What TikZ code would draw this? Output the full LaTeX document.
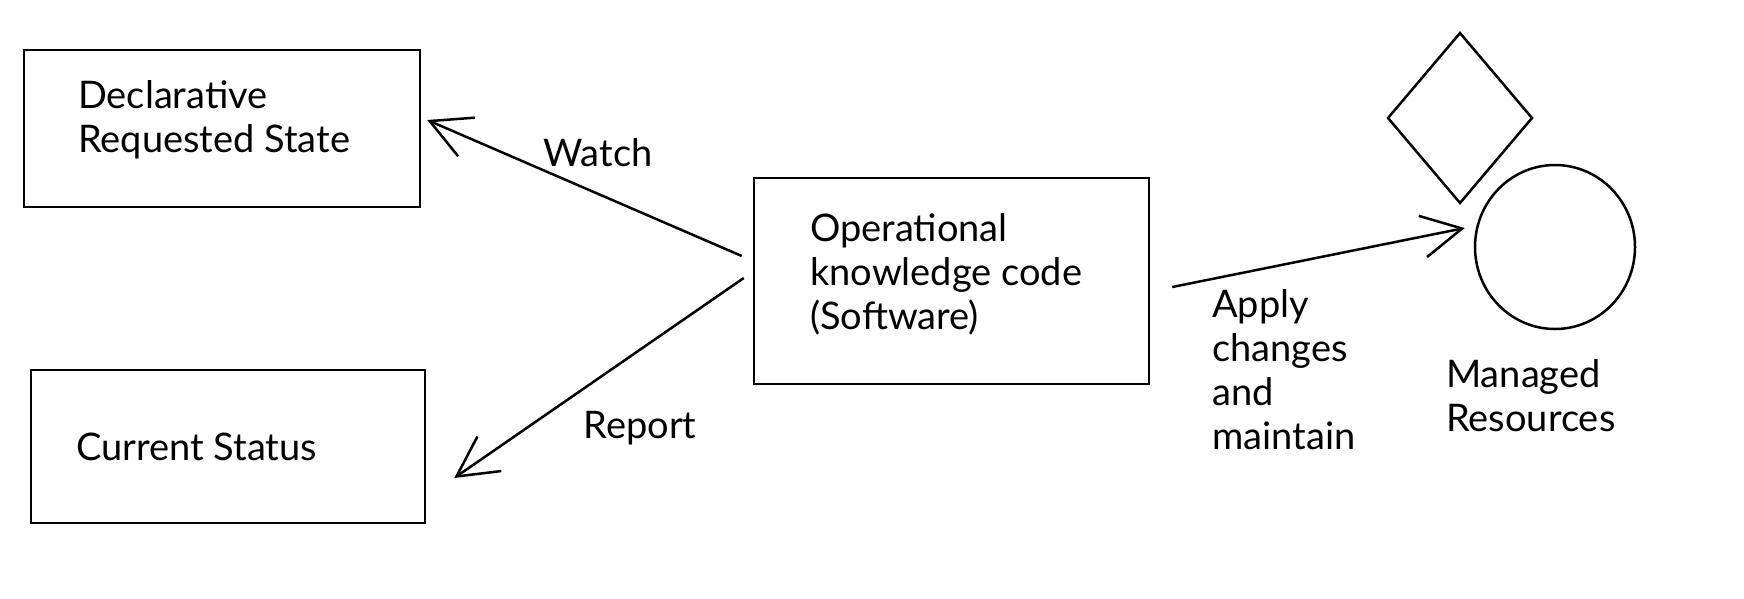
\documentclass[tikz,border=0pt]{standalone}
\usepackage{fontspec}
\setmainfont{Lato}
\usetikzlibrary{arrows.meta,shapes.geometric}
\begin{document}
\begin{tikzpicture}[x=1pt,y=-1pt,
  box/.style={draw=black,line width=2.5pt,rectangle,inner sep=0pt},
  shp/.style={draw=black,line width=2.5pt,inner sep=0pt},
  txt/.style={font=\fontsize{38}{44}\selectfont,align=left,inner sep=0pt,text=black},
  conn/.style={draw=black,line width=2.5pt,-{Straight Barb[length=40pt,width=42pt,line width=2.5pt]}}]
\useasboundingbox[fill=white] (0,0) rectangle (1744,598);
% boxes
\node[box,minimum width=396pt,minimum height=157pt] (decl) at (222,128.5) {};
\node[box,minimum width=394pt,minimum height=153pt] (curr) at (228,446.5) {};
\node[box,minimum width=395pt,minimum height=206pt] (oper) at (951.5,281) {};
\node[shp,diamond,minimum width=145pt,minimum height=171pt] (dia) at (1460,118) {};
\node[shp,ellipse,minimum width=160pt,minimum height=164pt] (circ) at (1555,247) {};
% texts
\node[txt,anchor=west] (tdecl) at (78,120) {Declarative\\Requested State};
\node[txt,anchor=west] (tcurr) at (76,447) {Current Status};
\node[txt,anchor=west] (toper) at (810,274) {Operational\\knowledge code\\(Software)};
\node[txt,anchor=west] (tapply) at (1212,370) {Apply\\changes\\and\\maintain};
\node[txt,anchor=west] (tman) at (1446,396) {Managed\\Resources};
\node[txt] (twatch) at (598,153) {Watch};
\node[txt] (treport) at (640,428) {Report};
% connectors
\draw[conn] ([xshift=-11pt,yshift=25pt]oper.west) -- ([xshift=6pt,yshift=8.5pt]decl.east);
\draw[conn] ([xshift=-9pt,yshift=3pt]oper.west) -- ([xshift=28pt,yshift=-31.5pt]curr.east);
\draw[conn] ([xshift=22pt,yshift=-6pt]oper.east) -- ([xshift=-9pt,yshift=19pt]circ.west);
\end{tikzpicture}
\end{document}
